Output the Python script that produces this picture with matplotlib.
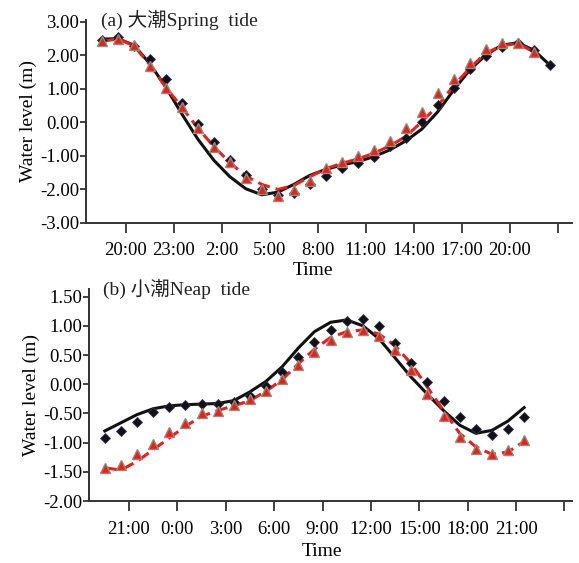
import matplotlib
matplotlib.use("Agg")
import matplotlib.pyplot as plt
import numpy as np

plt.rcParams['font.family'] = ['Liberation Serif', 'Noto Sans CJK SC']

# ---- (a) spring tide, hourly samples, hours after 20:00 ----
spring_hours = np.arange(-1.5, 27.0, 1.0)          # -1.5 .. 26.5
spring_black = [2.49, 2.50, 2.31, 1.75, 1.05, 0.25, -0.50, -1.13, -1.62, -1.98,
                -2.16, -2.08, -1.85, -1.58, -1.40, -1.27, -1.17, -1.02, -0.82, -0.55,
                -0.20, 0.32, 0.97, 1.57, 2.01, 2.31, 2.38, 2.16, 1.72]
spring_diamond = [2.45, 2.54, 2.29, 1.90, 1.29, 0.59, -0.04, -0.59, -1.12, -1.58,
                  -1.98, -2.17, -2.11, -1.83, -1.60, -1.36, -1.22, -1.02, -0.71, -0.45,
                  0.00, 0.51, 1.04, 1.59, 1.97, 2.26, 2.37, 2.15, 1.73]
spring_red = [2.42, 2.50, 2.29, 1.72, 1.05, 0.45, -0.17, -0.72, -1.20, -1.60,
              -1.85, -2.00, -1.88, -1.62, -1.38, -1.22, -1.09, -0.92, -0.70, -0.42,
              0.02, 0.50, 1.10, 1.62, 2.07, 2.29, 2.36, 2.11]
spring_tri = [2.43, 2.50, 2.30, 1.69, 1.02, 0.47, -0.17, -0.72, -1.17, -1.65,
              -1.99, -2.20, -2.03, -1.75, -1.37, -1.17, -1.00, -0.82, -0.55, -0.17,
              0.30, 0.87, 1.30, 1.77, 2.18, 2.36, 2.38, 2.11]
spring_ticks = [0, 3, 6, 9, 12, 15, 18, 21, 24, 27]
spring_labels = ["20:00", "23:00", "2:00", "5:00", "8:00", "11:00", "14:00", "17:00", "20:00", ""]

# ---- (b) neap tide, hours after 21:00 ----
neap_hours = np.arange(-1.5, 25.0, 1.0)            # -1.5 .. 24.5
neap_black = [-0.80, -0.66, -0.52, -0.42, -0.37, -0.35, -0.34, -0.33, -0.28, -0.13,
              0.05, 0.30, 0.62, 0.90, 1.06, 1.10, 1.00, 0.78, 0.45, 0.12,
              -0.17, -0.45, -0.70, -0.84, -0.79, -0.63, -0.40]
neap_diamond = [-0.92, -0.80, -0.64, -0.48, -0.39, -0.35, -0.34, -0.34, -0.30, -0.20,
                -0.03, 0.21, 0.46, 0.72, 0.93, 1.09, 1.12, 0.99, 0.71, 0.37,
                0.04, -0.28, -0.56, -0.77, -0.87, -0.77, -0.56]
neap_red = [-1.43, -1.47, -1.32, -1.12, -0.92, -0.72, -0.55, -0.45, -0.37, -0.28,
            -0.12, 0.08, 0.35, 0.60, 0.80, 0.90, 0.93, 0.86, 0.66, 0.35,
            -0.05, -0.45, -0.84, -1.07, -1.20, -1.16, -0.98]
neap_tri = [-1.43, -1.38, -1.19, -1.02, -0.81, -0.66, -0.50, -0.46, -0.35, -0.25,
            -0.12, 0.09, 0.33, 0.56, 0.75, 0.89, 0.92, 0.83, 0.58, 0.24,
            -0.16, -0.54, -0.91, -1.11, -1.19, -1.12, -0.96]
neap_ticks = [0, 3, 6, 9, 12, 15, 18, 21, 24, 27]
neap_labels = ["21:00", "0:00", "3:00", "6:00", "9:00", "12:00", "15:00", "18:00", "21:00", ""]

RED = '#e5211d'
TRI_EDGE = '#9a8778'
AXC = '#333333'


def draw(ax, hrs_line, black, diam, hrs_red, red, tri, ticks, labels, yt, title, xl_x):
    ax.plot(hrs_line, black, color='#111111', lw=2.2, solid_joinstyle='round', zorder=2)
    ax.plot(hrs_red, red, color=RED, lw=2.2, ls=(0, (4, 2)), zorder=3)
    ax.plot(hrs_line, diam, ls='none', marker='D', ms=5, color='#111111',
            mec='#333355', mew=0.6, zorder=4)
    ax.plot(hrs_red, tri, ls='none', marker='^', ms=7.5, color=RED,
            mec=TRI_EDGE, mew=1.0, zorder=5)
    for s in ['top', 'right']:
        ax.spines[s].set_visible(False)
    for s in ['left', 'bottom']:
        ax.spines[s].set_color(AXC)
        ax.spines[s].set_linewidth(1.4)
    ax.set_xticks(ticks)
    ax.set_xticklabels(labels)
    ax.set_yticks(yt)
    ax.set_yticklabels(['%.2f' % v for v in yt])
    ax.tick_params(axis='x', direction='out', length=7, width=1.3, color=AXC,
                   pad=7, labelsize=13.5)
    ax.tick_params(axis='y', direction='out', length=4, width=1.3, color=AXC,
                   pad=1, labelsize=13.5)
    ax.set_ylabel('Water level (m)', fontsize=14, labelpad=2)
    ax.set_xlabel('Time', fontsize=14, va='center')
    ax.xaxis.set_label_coords(xl_x, -0.236)
    ax.text(0.03, 1.0, title, transform=ax.transAxes, fontsize=14,
            va='center', ha='left', color='#222222')


fig = plt.figure(figsize=(5.79, 5.63), dpi=100)
ax1 = fig.add_axes([0.1485, 0.604, 0.8395, 0.3605])
ax2 = fig.add_axes([0.1537, 0.110, 0.8343, 0.3767])

draw(ax1, spring_hours, spring_black, spring_diamond, spring_hours[:len(spring_red)],
     spring_red, spring_tri, spring_ticks, spring_labels,
     [-3, -2, -1, 0, 1, 2, 3], '(a) 大潮Spring  tide', 0.467)
ax1.set_xlim(-2.5, 27.9)
ax1.set_ylim(-3.0, 3.06)

draw(ax2, neap_hours, neap_black, neap_diamond, neap_hours, neap_red, neap_tri,
     neap_ticks, neap_labels, [-2.0, -1.5, -1.0, -0.5, 0.0, 0.5, 1.0, 1.5],
     '(b) 小潮Neap  tide', 0.482)
ax2.set_xlim(-2.48, 27.47)
ax2.set_ylim(-2.0, 1.63)

fig.savefig('out.png', dpi=100)
